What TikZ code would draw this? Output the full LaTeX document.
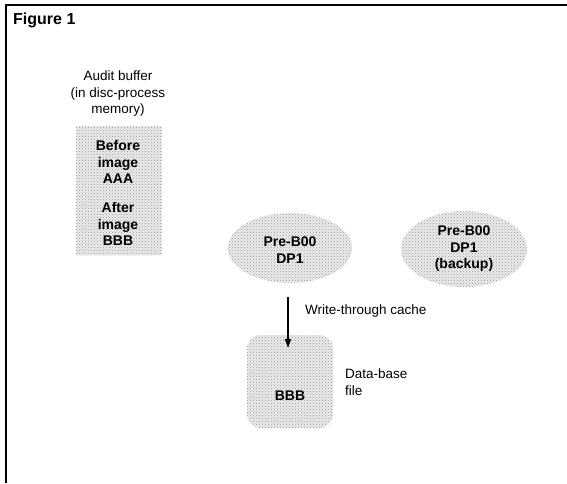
\documentclass[tikz,border=0pt]{standalone}
\usepackage{fontspec}
\setmainfont{Liberation Sans}
\usetikzlibrary{patterns,arrows.meta,shapes.geometric}
\begin{document}
\begin{tikzpicture}[x=1pt,y=-1pt,
  stipple/.style={pattern=crosshatch dots,pattern color=black!40,draw=none},
  stippleback/.style={fill=black!8,draw=none},
  lbl/.style={font=\fontsize{13.5}{16.5}\selectfont,align=center,inner sep=0pt},
  blbl/.style={font=\fontsize{14}{16.5}\selectfont\bfseries,align=center,inner sep=0pt},
  frame/.style={line width=1.6pt,line cap=butt}]
\useasboundingbox (0,0) rectangle (567,483);
% frame: rule along the top and the left side
\coordinate (tl) at (6,5);
\coordinate (tr) at (567,5);
\coordinate (bl) at (6,483);
\draw[frame] (tr) -- (tl) -- (bl);
\node[anchor=west,font=\fontsize{16}{19}\selectfont\bfseries,inner sep=0pt] (fig) at (13,20) {Figure 1};

% audit buffer
\node[lbl] (audit) at (118,94) {Audit buffer\\(in disc-process\\memory)};
\fill[stippleback] (76,126) rectangle (162,255);
\fill[stipple] (76,126) rectangle (162,255);
\node[blbl] (before) at (118,162) {Before\\image\\AAA};
\node[blbl] (after) at (118,224) {After\\image\\BBB};

% primary and backup disc processes
\fill[stippleback] (290,248) ellipse [x radius=62, y radius=35];
\fill[stipple] (290,248) ellipse [x radius=62, y radius=35];
\node[blbl] (dp1) at (290,250) {Pre-B00\\DP1};
\fill[stippleback] (464,249) ellipse [x radius=63, y radius=38];
\fill[stipple] (464,249) ellipse [x radius=63, y radius=38];
\node[blbl] (dp1b) at (464,249) {Pre-B00\\DP1\\(backup)};

% data-base file
\fill[stippleback,rounded corners=14pt] (247,335) rectangle (333,428);
\fill[stipple,rounded corners=14pt] (247,335) rectangle (333,428);
\node[blbl] (bbb) at (290,396) {BBB};
\node[lbl,align=left,anchor=west] (dbf) at (345,382) {Data-base\\file};

% write-through path
\coordinate (arrtop) at (288,297);
\coordinate (arrbot) at (288,348);
\draw[line width=1.6pt,-{Triangle[length=9pt,width=6pt]}] (arrtop) -- (arrbot);
\node[lbl,anchor=west] (wt) at (305,311) {Write-through cache};
\end{tikzpicture}
\end{document}
